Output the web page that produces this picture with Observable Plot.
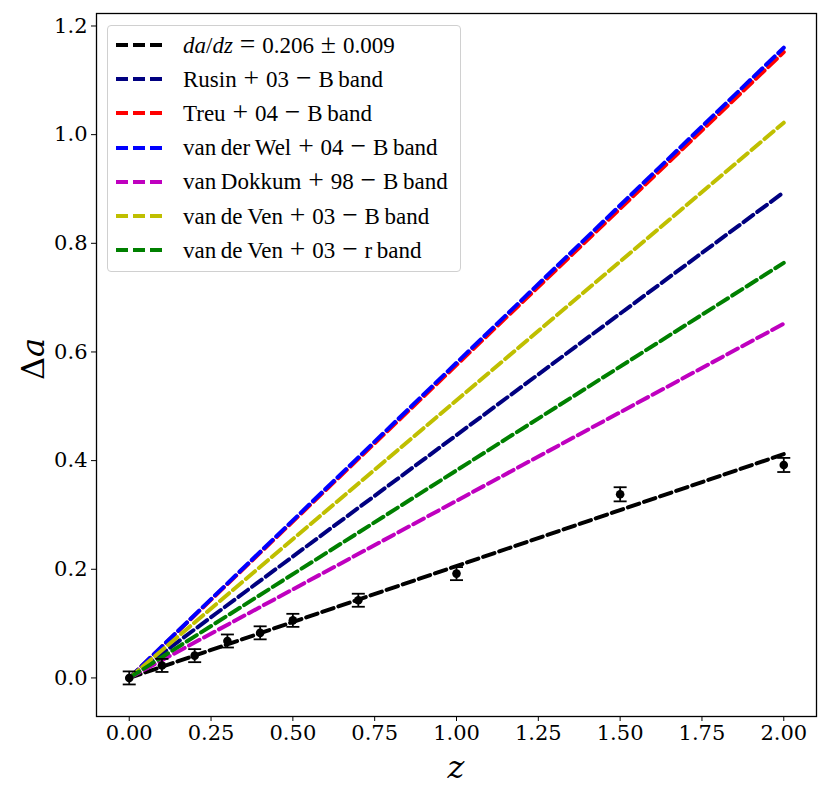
<!DOCTYPE html>
<html>
<head>
<meta charset="utf-8">
<script src="https://cdn.jsdelivr.net/npm/d3@7"></script>
<script src="https://cdn.jsdelivr.net/npm/@observablehq/plot@0.6"></script>
<style>
  body { margin: 0; background: white; }
  #wrap { position: relative; width: 830px; height: 797px; }
  #legend { position: absolute; left: 107px; top: 25px; width: 354px; height: 247px;
    border: 1px solid #d0d0d0; border-radius: 4px; background: rgba(255,255,255,0.85);
    font-family: "Liberation Serif", "DejaVu Serif", serif; font-size: 23px; color: black; box-sizing: border-box; white-space: nowrap; }
  .row { position: absolute; left: 0; height: 30px; display: flex; align-items: center; }
  .row svg { margin-left: 7px; margin-right: 18px; }
  .row span.t { line-height: 30px; }
  .op { margin: 0 0.25em; font-size: 1.2em; line-height: 1; }
  .ylab { position: absolute; left: 8px; top: 340px; font-family: "DejaVu Serif", serif; font-size: 32px;
    transform: rotate(-90deg); transform-origin: center; width: 50px; text-align: center; }
  .xlab { position: absolute; left: 431px; top: 748px; font-family: "DejaVu Serif", serif; font-size: 32px; width: 50px; text-align: center; }
</style>
</head>
<body>
<div id="wrap"></div>
<script>
// Measured data points (z, Δa) with error bars
const zVals   = [0.0, 0.1, 0.2, 0.3, 0.4, 0.5, 0.7, 1.0, 1.5, 2.0];
const daVals  = [0.000, 0.023, 0.041, 0.068, 0.083, 0.106, 0.143, 0.192, 0.338, 0.392];
const daErrs  = [0.012, 0.012, 0.012, 0.012, 0.012, 0.012, 0.012, 0.012, 0.013, 0.013];

// Linear relations Δa = slope * z
const fitNames  = ["da/dz = 0.206 ± 0.009", "Rusin + 03 − B band", "Treu + 04 − B band",
                   "van der Wel + 04 − B band", "van Dokkum + 98 − B band",
                   "van de Ven + 03 − B band", "van de Ven + 03 − r band"];
const fitSlopes = [0.206, 0.447, 0.576, 0.580, 0.326, 0.511, 0.382];
const fitColors = ["#000000", "#000080", "#ff0000", "#0000ff", "#bf00bf", "#bfbf00", "#008000"];
const zRange = [0, 2];

// Axis ticks
const xTicks = [0, 0.25, 0.5, 0.75, 1.0, 1.25, 1.5, 1.75, 2.0];
const yTicks = [0, 0.2, 0.4, 0.6, 0.8, 1.0, 1.2];

const points = zVals.map((z, i) => ({z, a: daVals[i], lo: daVals[i] - daErrs[i], hi: daVals[i] + daErrs[i]}));

const capSymbol = {
  draw(ctx, size) {
    const w = Math.sqrt(size / Math.PI);
    ctx.moveTo(-w, 0);
    ctx.lineTo(w, 0);
  }
};

const lineMarks = fitNames.map((name, i) =>
  Plot.line(zRange.map(z => ({z, a: fitSlopes[i] * z})), {
    x: "z", y: "a", stroke: fitColors[i], strokeWidth: 4, strokeDasharray: "12,5"
  })
);

const plot = Plot.plot({
  width: 830,
  height: 797,
  marginLeft: 96,
  marginRight: 14,
  marginTop: 13,
  marginBottom: 81,
  style: {fontFamily: "DejaVu Serif, serif", fontSize: "21px", color: "black", background: "white"},
  x: {domain: [-0.1, 2.1], ticks: xTicks, tickFormat: d3.format(".2f"), label: null, tickSize: 5, tickPadding: 4},
  y: {domain: [-0.071, 1.223], ticks: yTicks, tickFormat: d3.format(".1f"), label: null, tickSize: 5, tickPadding: 4},
  marks: [
    ...lineMarks,
    Plot.ruleX(points, {x: "z", y1: "lo", y2: "hi", stroke: "black", strokeWidth: 1.8}),
    Plot.dot(points, {x: "z", y: "lo", symbol: capSymbol, r: 6.5, stroke: "black", strokeWidth: 1.8, fill: "none"}),
    Plot.dot(points, {x: "z", y: "hi", symbol: capSymbol, r: 6.5, stroke: "black", strokeWidth: 1.8, fill: "none"}),
    Plot.dot(points, {x: "z", y: "a", r: 4.3, fill: "black", stroke: "none"}),
    Plot.frame({stroke: "black", strokeWidth: 1.3})
  ]
});

const wrap = document.getElementById("wrap");
wrap.appendChild(plot);

// Legend
const legend = document.createElement("div");
legend.id = "legend";
const op = s => `<span class="op">${s}</span>`;
const labelsHTML = [
  `<i>da</i>/<i>dz</i>${op("=")}0.206${op("±")}0.009`,
  `Rusin${op("+")}03${op("−")}B&thinsp;band`,
  `Treu${op("+")}04${op("−")}B&thinsp;band`,
  `van&thinsp;der&thinsp;Wel${op("+")}04${op("−")}B&thinsp;band`,
  `van&thinsp;Dokkum${op("+")}98${op("−")}B&thinsp;band`,
  `van&thinsp;de&thinsp;Ven${op("+")}03${op("−")}B&thinsp;band`,
  `van&thinsp;de&thinsp;Ven${op("+")}03${op("−")}r&thinsp;band`
];
fitNames.forEach((name, i) => {
  const row = document.createElement("div");
  row.className = "row";
  row.style.top = (4 + i * 34.2) + "px";
  row.innerHTML = `<svg width="50" height="10"><line x1="1" y1="5" x2="49" y2="5" stroke="${fitColors[i]}" stroke-width="4" stroke-dasharray="12,5"/></svg><span class="t">${labelsHTML[i]}</span>`;
  legend.appendChild(row);
});
wrap.appendChild(legend);

const ylab = document.createElement("div");
ylab.className = "ylab";
ylab.innerHTML = "Δ<i>a</i>";
wrap.appendChild(ylab);
const xlab = document.createElement("div");
xlab.className = "xlab";
xlab.innerHTML = "<i>z</i>";
wrap.appendChild(xlab);
</script>
</body>
</html>
